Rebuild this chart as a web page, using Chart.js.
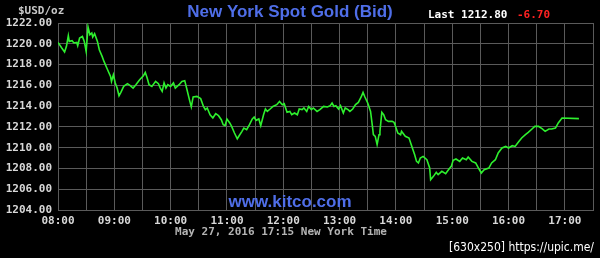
<!DOCTYPE html>
<html>
<head>
<meta charset="utf-8">
<script src="https://cdn.jsdelivr.net/npm/chart.js@4.4.1/dist/chart.umd.min.js"></script>
<style>
html,body{margin:0;padding:0;background:#000;}
#wrap{width:600px;height:258px;position:relative;}
</style>
</head>
<body>
<div id="wrap"><canvas id="c" width="600" height="258"></canvas></div>
<script>
// minutes after 08:00 New York time
const minutes = [0,4,7,9,11,12,15,17,20,21,23,26,28,30,32,34,36,37,39,42,44,47,49,52,56,57,59,61,63,65,67,70,74,77,80,83,87,91,93,95,97,100,104,107,109,111,113,115,117,120,123,125,129,132,135,137,140,142,144,148,152,155,157,159,162,165,168,171,174,176,178,180,183,185,188,191,193,196,198,201,204,207,209,211,214,216,219,221,223,226,229,233,236,239,241,244,247,249,252,255,257,260,262,265,267,270,272,276,279,283,287,290,292,294,296,299,301,304,306,309,311,314,317,320,323,325,327,330,333,335,336,338,340,342,343,345,347,349,352,356,358,359,362,365,366,370,374,377,380,382,384,386,389,393,396,397,400,403,405,409,413,416,419,421,424,428,431,435,437,441,445,448,451,454,459,462,466,469,473,477,480,484,487,491,494,498,501,505,508,512,516,519,523,526,530,533,537,555];
const bidPrices = [1220.13,1219.59,1219.21,1219.75,1220.78,1220.23,1220.30,1220.08,1220.13,1219.82,1220.56,1220.71,1220.23,1219.27,1221.62,1220.87,1221.04,1220.65,1220.97,1220.23,1219.43,1218.79,1218.30,1217.67,1216.86,1216.38,1217.02,1216.23,1215.74,1215.00,1215.32,1215.90,1216.16,1215.97,1215.74,1216.06,1216.54,1216.93,1217.25,1216.71,1216.06,1215.90,1216.38,1216.16,1215.74,1215.42,1216.23,1215.74,1216.06,1215.90,1216.23,1215.74,1216.06,1216.38,1216.45,1215.74,1214.62,1213.92,1214.88,1214.94,1214.72,1213.97,1213.66,1213.82,1213.17,1212.86,1213.27,1213.08,1212.69,1212.21,1212.12,1212.76,1212.38,1212.05,1211.41,1210.86,1211.15,1211.57,1211.89,1211.73,1212.21,1212.76,1212.95,1212.63,1212.76,1212.12,1213.17,1213.72,1213.49,1213.72,1213.97,1214.14,1214.45,1214.14,1214.23,1213.40,1213.49,1213.17,1213.34,1213.17,1213.72,1213.66,1213.82,1213.49,1213.97,1213.66,1213.82,1213.49,1213.66,1213.97,1213.92,1214.04,1214.30,1213.97,1214.04,1213.72,1214.04,1213.34,1213.82,1213.66,1213.49,1213.72,1214.14,1214.36,1214.88,1215.32,1214.88,1214.30,1213.49,1212.05,1211.25,1211.09,1210.29,1211.25,1211.57,1213.40,1213.17,1212.69,1212.53,1212.53,1212.43,1212.21,1211.41,1211.25,1211.57,1211.09,1210.93,1210.12,1209.32,1208.68,1208.53,1209.01,1209.16,1208.84,1208.04,1206.92,1207.24,1207.62,1207.40,1207.72,1207.50,1207.88,1208.20,1208.78,1208.91,1208.68,1209.01,1208.84,1209.10,1208.68,1208.53,1208.04,1207.56,1207.88,1208.04,1208.53,1208.84,1209.49,1209.97,1210.12,1209.97,1210.19,1210.12,1210.60,1210.93,1211.25,1211.47,1211.80,1212.05,1212.05,1211.80,1211.57,1211.80,1211.80,1211.89,1212.38,1212.86,1212.80];
const hourLabels = ["08:00","09:00","10:00","11:00","12:00","13:00","14:00","15:00","16:00","17:00"];
const yTicks = [1204,1206,1208,1210,1212,1214,1216,1218,1220,1222];
const titleText = "New York Spot Gold (Bid)";
const lastText = "Last 1212.80";
const changeText = "-6.70";
const unitText = "$USD/oz";
const dateText = "May 27, 2016 17:15 New York Time";
const siteText = "www.kitco.com";
const hostText = "[630x250] https://upic.me/";

const points = minutes.map((m,i)=>({x:m,y:bidPrices[i]}));
const MONO = "'DejaVu Sans Mono', 'Liberation Mono', monospace";

const textPlugin = {
  id:'texts',
  beforeDraw(chart){
    const ctx = chart.ctx;
    ctx.save();
    ctx.fillStyle = '#000';
    ctx.fillRect(0,0,chart.width,chart.height);
    ctx.restore();
  },
  afterDraw(chart){
    const ctx = chart.ctx;
    ctx.save();
    ctx.textBaseline = 'middle';
    ctx.font = "bold 11px " + MONO;
    ctx.fillStyle = '#c8c8c8';
    ctx.textAlign = 'left';
    ctx.fillText(unitText, 18, 11);
    ctx.fillStyle = '#ffffff';
    ctx.fillText(lastText, 428, 15);
    ctx.fillStyle = '#ff2222';
    ctx.fillText(changeText, 517, 15);
    ctx.fillStyle = '#b4b4b4';
    ctx.font = "bold 11px " + MONO;
    ctx.textAlign = 'center';
    ctx.fillText(dateText, 281, 232);
    ctx.font = "bold 17px 'Liberation Sans', Arial, sans-serif";
    ctx.fillStyle = '#4f6ee8';
    ctx.fillText(titleText, 290, 12);
    ctx.font = "bold 17px 'Liberation Sans', Arial, sans-serif";
    ctx.fillText(siteText, 290, 202);
    ctx.font = "12px 'DejaVu Sans Condensed', 'DejaVu Sans', sans-serif";
    ctx.fillStyle = '#ffffff';
    ctx.textAlign = 'right';
    ctx.fillText(hostText, 594, 248);
    ctx.restore();
  }
};

new Chart(document.getElementById('c'), {
  type:'line',
  data:{datasets:[{
    data: points,
    borderColor:'#2ef02e',
    borderWidth:1.6,
    pointRadius:0,
    tension:0,
    fill:false
  }]},
  options:{
    responsive:false,
    animation:false,
    parsing:true,
    layout:{padding:{top:23,right:7,left:0,bottom:0}},
    plugins:{legend:{display:false},tooltip:{enabled:false},title:{display:false}},
    scales:{
      x:{
        type:'linear',
        min:0,max:570,
        afterFit(s){s.height=48;},
        afterBuildTicks(s){const t=[];for(let v=0;v<=570;v+=30)t.push({value:v});s.ticks=t;},
        grid:{color:'#5a5a5a',lineWidth:1,drawTicks:false},
        border:{color:'#5a5a5a'},
        ticks:{
          autoSkip:false,maxRotation:0,padding:5,
          color:'#d8d8d8',
          font:{family:MONO,size:11,weight:'bold'},
          callback(v){ return (v%60===0 && v/60<hourLabels.length) ? hourLabels[v/60] : ''; }
        }
      },
      y:{
        min:1204,max:1222,
        afterFit(s){s.width=58;},
        afterBuildTicks(s){s.ticks=yTicks.map(v=>({value:v}));},
        grid:{color:'#5a5a5a',lineWidth:1,drawTicks:false},
        border:{color:'#5a5a5a'},
        ticks:{
          padding:6,
          color:'#d8d8d8',
          font:{family:MONO,size:11,weight:'bold'},
          callback(v){return Number(v).toFixed(2);}
        }
      }
    }
  },
  plugins:[textPlugin]
});
</script>
</body>
</html>
